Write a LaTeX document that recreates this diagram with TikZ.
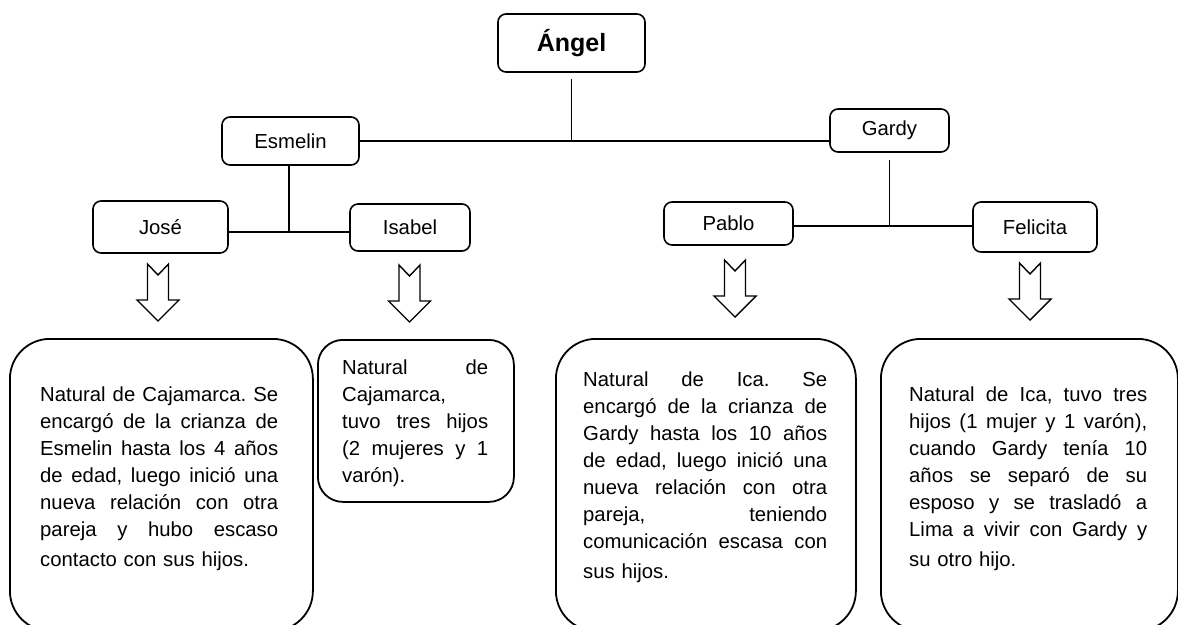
\documentclass[tikz,border=0pt]{standalone}
\usepackage{fontspec}
\setmainfont{Liberation Sans}
\frenchspacing
% one line stretched to the full column width (justified line)
\newcommand{\jline}[1]{{\spaceskip=0pt\xspaceskip=0pt\makebox[\hsize][s]{#1}}}
\begin{document}
\begin{tikzpicture}[x=1pt,y=-1pt,
  person/.style={draw, line width=1.6pt, rounded corners=8pt, inner sep=0pt,
    font=\fontsize{20.3}{24}\selectfont},
  tie/.style={line width=1.1pt},
  infobox/.style={draw, line width=1.8pt, inner sep=0pt, anchor=north west},
  infotext/.style={anchor=north west, inner sep=0pt, align=left,
    font=\fontsize{20.3}{27}\selectfont},
  pics/downarrow/.style={code={
    \draw[line width=1.4pt, line join=miter]
      (-10.5,0) -- (0,11) -- (10.5,0) -- (10.5,36) -- (21,36) -- (0,57)
      -- (-21,36) -- (-10.5,36) -- cycle;}}
  ]
\clip (0,0) rectangle (1178,624);

% family tree
\node[person, minimum width=147pt, minimum height=58pt,
      font=\fontsize{25}{28}\selectfont\bfseries] (angel) at (571.5,43) {Ángel};
\node[person, minimum width=137pt, minimum height=48pt] (esmelin) at (290.5,141) {Esmelin};
\node[person, minimum width=119pt, minimum height=43pt] (gardy) at (889.5,130.5) {Gardy};
\node[person, minimum width=135pt, minimum height=52pt] (jose) at (160.5,227) {José};
\node[person, minimum width=120pt, minimum height=47pt] (isabel) at (410,227.5) {Isabel};
\node[person, minimum width=129pt, minimum height=43pt] (pablo) at (728.5,223.5) {Pablo};
\node[person, minimum width=124pt, minimum height=50pt] (felicita) at (1035,227) {Felicita};

\coordinate (jm) at (289,232);
\coordinate (pf) at (889,226);

\draw[tie] (esmelin.east) -- (esmelin.east -| gardy.west);
\draw[tie] ([yshift=-6pt]angel.south) -- (angel.south |- esmelin.east);
\draw[tie] (esmelin.south -| jm) -- (jm);
\draw[tie] (jose.east |- jm) -- (isabel.west |- jm);
\draw[tie] ([yshift=-7pt]gardy.south) -- (gardy.south |- pf);
\draw[tie] (pablo.east |- pf) -- (felicita.west |- pf);

% block arrows
\pic at (158,264) {downarrow};
\pic at (409.5,265) {downarrow};
\pic at (735,260) {downarrow};
\pic at (1030,263) {downarrow};

% description boxes
\node[infobox, rounded corners=40pt, minimum width=303pt, minimum height=292pt] (b1) at (9,338) {};
\node[infobox, rounded corners=25pt, minimum width=196pt, minimum height=162pt] (b2) at (317,339) {};
\node[infobox, rounded corners=40pt, minimum width=300pt, minimum height=292pt] (b3) at (555,338) {};
\node[infobox, rounded corners=40pt, minimum width=297pt, minimum height=292pt] (b4) at (880,338) {};

\node[infotext, text width=238pt] (t1) at (40,387) {%
\jline{Natural de Cajamarca. Se}\\
\jline{encargó de la crianza de}\\
\jline{Esmelin hasta los 4 años}\\
\jline{de edad, luego inició una}\\
\jline{nueva relación con otra}\\
\jline{pareja y hubo escaso}\\[3pt]
contacto con sus hijos.};

\node[infotext, text width=146pt] (t2) at (342,360) {%
\jline{Natural de}\\
Cajamarca,\\
\jline{tuvo tres hijos}\\
\jline{(2 mujeres y 1}\\
varón).};

\node[infotext, text width=244pt] (t3) at (583,372) {%
\jline{Natural de Ica. Se}\\
\jline{encargó de la crianza de}\\
\jline{Gardy hasta los 10 años}\\
\jline{de edad, luego inició una}\\
\jline{nueva relación con otra}\\
\jline{pareja, teniendo}\\
\jline{comunicación escasa con}\\[3pt]
sus hijos.};

\node[infotext, text width=238pt] (t4) at (909,387) {%
\jline{Natural de Ica, tuvo tres}\\
\jline{hijos (1 mujer y 1 varón),}\\
\jline{cuando Gardy tenía 10}\\
\jline{años se separó de su}\\
\jline{esposo y se trasladó a}\\
\jline{Lima a vivir con Gardy y}\\[3pt]
su otro hijo.};
\end{tikzpicture}
\end{document}
